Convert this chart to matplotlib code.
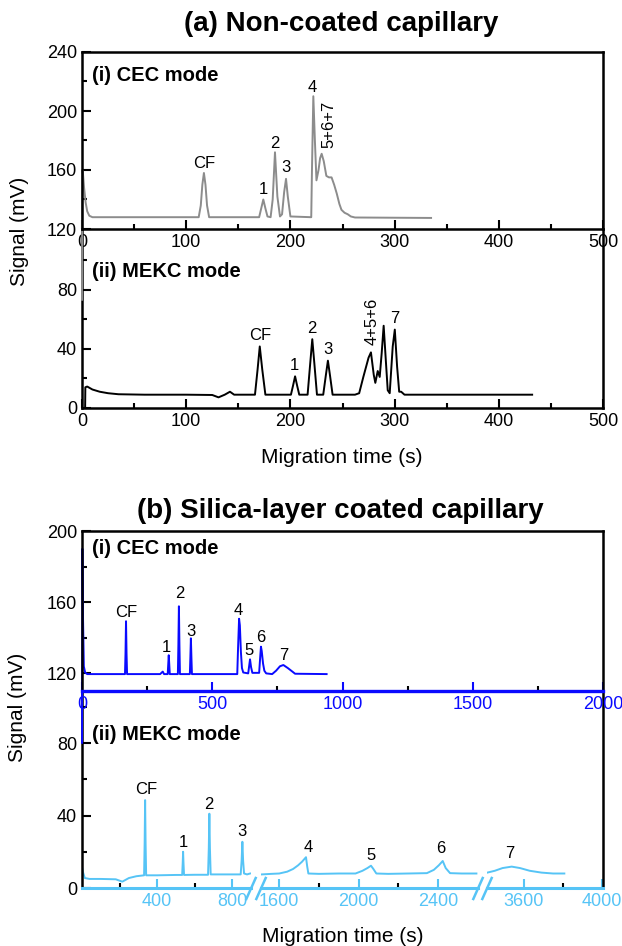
import matplotlib
matplotlib.use('Agg')
import matplotlib.pyplot as plt
from matplotlib.lines import Line2D

plt.rcParams['font.family'] = ['Liberation Sans', 'DejaVu Sans']

W, H = 622, 946
GRAY = '#8c8c8c'
BLUE = '#0a0aff'
SKY = '#56c4f6'

# ---- (a) non-coated capillary, CEC mode (gray) ----
a_cec_t = [0, 0.3, 1, 2, 3.5, 5, 7, 10, 112, 114, 115.5, 117, 118.5, 120, 122,
           170, 172, 174, 176, 178, 181, 183, 185.2, 187.5, 190, 192, 194, 195.8,
           197.5, 200, 220, 220.7, 222, 223.5, 225, 227, 228.5, 230, 232, 234.5,
           237, 239.5, 242, 244.5, 247, 249, 252, 255, 258, 262, 335]
a_cec_s = [72, 160, 157, 148, 138, 132, 129, 128, 128, 136, 150, 158, 150, 136, 128,
           128, 134, 140, 134, 128.5, 128, 140, 172, 142, 128.5, 130, 145, 154,
           142, 128.5, 128, 160, 210, 180, 153, 160, 168, 171, 166, 156,
           155, 155, 150, 144, 137, 133, 131, 130, 128.5, 127.8, 127.5]
a_cec_lab = ['CF', '1', '2', '3', '4']
a_cec_lab_t = [117.5, 173.6, 185, 195.6, 221.4]
a_cec_lab_s = [164.5, 146.8, 178.3, 161.7, 216]

# ---- (a) non-coated capillary, MEKC mode (black) ----
a_mekc_t = [3, 3.2, 5, 10, 17, 25, 35, 60, 100, 125, 131, 137, 142, 146, 150,
            166, 168.5, 170.6, 173, 176, 200.5, 202.5, 204.5, 206.5, 208.5,
            216.5, 219, 221, 223, 225.5, 231.5, 234, 236, 238, 240.5, 262, 266,
            270, 275, 277.3, 280, 281.5, 283.8, 285.7, 287.6, 289.5, 291.5, 293.4,
            295.3, 298.2, 300.2, 302.4, 304.4, 306.3, 309.5, 432]
a_mekc_s = [0, 14, 14.5, 12.5, 11, 10, 9.3, 9, 9, 8.8, 7.2, 9, 11, 9, 9,
            9, 26, 41.6, 26, 9, 9, 15, 21.4, 15, 9,
            9, 30, 46.5, 30, 9, 9, 22, 32, 22, 9, 9, 10,
            21, 34, 37.6, 22.4, 17, 25, 21, 37, 55.6, 33, 12,
            10, 41.6, 53, 28, 11, 11, 9, 9]
a_mekc_lab = ['CF', '1', '2', '3', '7']
a_mekc_lab_t = [170.8, 203.5, 220.4, 236.4, 300.4]
a_mekc_lab_s = [49.2, 28.8, 53.6, 39.3, 60.5]

# ---- (b) silica-layer coated, CEC mode (blue) ----
b_cec_t = [0, 1.5, 4, 7, 12, 20, 165, 167, 169, 171, 173, 300, 310, 315,
           329, 331, 333, 335, 337, 368, 370, 372, 374, 376, 414, 416, 418, 420, 422,
           596, 599, 603, 606, 610, 614, 619, 638, 642, 645, 649, 654,
           680, 684, 687, 690, 695, 700, 707, 730, 745, 760, 773, 790, 805, 818, 939]
b_cec_s = [81, 190, 150, 124, 120.5, 119.6, 119.6, 131, 149.3, 131, 119.6, 119.6, 121, 119.6,
           119.6, 125, 130.2, 125, 119.6, 119.6, 136, 157.7, 136, 119.6, 119.6, 129, 139.7, 129, 119.6,
           119.6, 134, 150.7, 147, 132, 123, 120.5, 120, 124.5, 127.9, 123.5, 120.3,
           120.3, 129, 135, 132.5, 125.5, 121.5, 120, 119.6, 121.5, 124, 124.7, 123, 121.3, 119.8, 119.6]
b_cec_lab = ['CF', '1', '2', '3', '4', '5', '6', '7']
b_cec_lab_t = [169, 325, 373.6, 417, 601.5, 642, 687, 773]
b_cec_lab_s = [154, 134.8, 164.8, 143.5, 155.6, 132.9, 140.2, 129.9]

# ---- (b) silica-layer coated, MEKC mode (light blue, broken time axis) ----
b_mekc1_t = [1, 3, 6, 15, 40, 100, 180, 215, 250, 290, 331, 334, 336.5, 339, 342,
             400, 500, 534, 537, 539, 541, 544, 600, 672, 676, 679, 682, 686, 750,
             846, 851, 855, 859, 864, 880, 896]
b_mekc1_s = [11, 10, 8.5, 5.5, 5, 5, 4.8, 3.5, 5.5, 6.5, 7, 25, 48.5, 25, 7,
             7, 7.2, 7.2, 14, 20, 14, 7.2, 7.3, 7.3, 22, 41, 22, 7.5, 7.5,
             7.5, 15, 25.5, 15, 8, 7.5, 8]
b_mekc2_t = [1512, 1560, 1600, 1640, 1670, 1695, 1715, 1735, 1741, 1747, 1800, 1900,
             1985, 2020, 2045, 2063, 2075, 2090, 2150, 2250, 2345, 2380, 2405, 2425,
             2440, 2462, 2520, 2595]
b_mekc2_s = [7.5, 7.8, 8, 9, 10.5, 12.5, 14.5, 17, 12, 8, 7.8, 8,
             8, 9.5, 11, 12.3, 10.5, 8, 7.8, 8, 8.2, 10, 12.5, 14.9,
             11, 8.2, 8, 8]
b_mekc3_t = [3412, 3450, 3490, 3537, 3580, 3630, 3690, 3750, 3808]
b_mekc3_s = [8.5, 9.5, 11, 11.8, 11, 9.5, 8.5, 8, 8]
b_mekc_lab = ['CF', '1', '2', '3', '4', '5', '6', '7']
b_mekc_lab_t = [339.7, 540, 677, 851.7, 1746.5, 2063, 2415, 3528]
b_mekc_lab_s = [54.6, 25.1, 45.8, 30.9, 22.6, 17.7, 21.8, 18.8]


def px_box(l, t, r, b):
    return [l / W, 1 - b / H, (r - l) / W, (b - t) / H]


def style(ax, xcolor='black', ycolor='black'):
    for s in ax.spines.values():
        s.set_linewidth(1.8)
    ax.tick_params(which='both', direction='in', labelsize=13, width=1.5, pad=3.5)
    ax.tick_params(which='major', length=6.5)
    ax.tick_params(which='minor', length=3.5)
    ax.tick_params(axis='x', colors=xcolor)
    ax.tick_params(axis='y', colors=ycolor)


def peak_labels(ax, labels, ts, ss, seg_lim=None):
    for lab, t, s in zip(labels, ts, ss):
        if seg_lim is not None and not (seg_lim[0] <= t <= seg_lim[1]):
            continue
        ax.text(t, s, lab, fontsize=12, ha='center', va='center')


fig = plt.figure(figsize=(W / 100, H / 100), dpi=100)

# ================= (a) =================
ax_a2 = fig.add_axes(px_box(82, 229, 603, 408))
ax_a2.plot(a_mekc_t, a_mekc_s, color='black', lw=1.4)
ax_a2.set_xlim(0, 500)
ax_a2.set_ylim(0, 121)
ax_a2.set_xticks(range(0, 501, 100))
ax_a2.set_xticks(range(50, 500, 100), minor=True)
ax_a2.set_yticks([0, 40, 80])
ax_a2.set_yticks([20, 60, 100], minor=True)
ax_a2.spines['top'].set_visible(False)
style(ax_a2)
peak_labels(ax_a2, a_mekc_lab, a_mekc_lab_t, a_mekc_lab_s)
ax_a2.text(278.3, 58.5, '4+5+6', fontsize=12, rotation=90, ha='center', va='center')
ax_a2.text(0.019, 0.76, '(ii) MEKC mode', transform=ax_a2.transAxes,
           fontsize=14.5, fontweight='bold', ha='left', va='center')

ax_a1 = fig.add_axes(px_box(82, 52, 603, 229))
ax_a1.plot(a_cec_t, a_cec_s, color=GRAY, lw=1.4, clip_on=False)
ax_a1.set_xlim(0, 500)
ax_a1.set_ylim(120, 240)
ax_a1.set_xticks(range(0, 501, 100))
ax_a1.set_xticks(range(50, 500, 100), minor=True)
ax_a1.set_yticks([120, 160, 200, 240])
ax_a1.set_yticks([140, 180, 220], minor=True)
style(ax_a1)
peak_labels(ax_a1, a_cec_lab, a_cec_lab_t, a_cec_lab_s)
ax_a1.text(237, 191.2, '5+6+7', fontsize=12, rotation=90, ha='center', va='center')
ax_a1.text(0.019, 0.87, '(i) CEC mode', transform=ax_a1.transAxes,
           fontsize=14.5, fontweight='bold', ha='left', va='center')

fig.text(341 / W, 1 - 24 / H, '(a) Non-coated capillary', fontsize=20,
         fontweight='bold', ha='center', va='center')
fig.text(20 / W, 1 - 231.7 / H, 'Signal (mV)', fontsize=15, rotation=90,
         ha='center', va='center')
fig.text(342 / W, 1 - 457 / H, 'Migration time (s)', fontsize=15,
         ha='center', va='center')

# ================= (b) =================
seg_boxes = [(82, 251), (261, 478), (487, 603)]
seg_lims = [(0, 901), (1508, 2603), (3410, 4007)]
seg_major = [[400, 800], [1600, 2000, 2400], [3600, 4000]]
seg_minor = [[200, 600], [1800, 2200], [3800]]
seg_data = [(b_mekc1_t, b_mekc1_s), (b_mekc2_t, b_mekc2_s), (b_mekc3_t, b_mekc3_s)]

seg_axes = []
for i, ((l, r), lim, maj, mnr, (tt, ss)) in enumerate(
        zip(seg_boxes, seg_lims, seg_major, seg_minor, seg_data)):
    ax = fig.add_axes(px_box(l, 691, r, 888))
    ax.plot(tt, ss, color=SKY, lw=1.4)
    ax.set_xlim(*lim)
    ax.set_ylim(0, 108.7)
    ax.set_xticks(maj)
    ax.set_xticks(mnr, minor=True)
    style(ax, xcolor=SKY)
    ax.spines['top'].set_visible(False)
    ax.spines['bottom'].set_color(SKY)
    ax.spines['bottom'].set_linewidth(2.2)
    if i == 0:
        ax.set_yticks([0, 40, 80])
        ax.set_yticks([20, 60, 100], minor=True)
    else:
        ax.spines['left'].set_visible(False)
        ax.set_yticks([])
    if i < 2:
        ax.spines['right'].set_visible(False)
    peak_labels(ax, b_mekc_lab, b_mekc_lab_t, b_mekc_lab_s, seg_lim=lim)
    seg_axes.append(ax)

seg_axes[0].text(0.059, 0.78, '(ii) MEKC mode', transform=seg_axes[0].transAxes,
                 fontsize=14.5, fontweight='bold', ha='left', va='center')

# axis break marks at the segment edges
for a, b in zip(seg_axes[:-1], seg_axes[1:]):
    for xe in (a.get_position().x1, b.get_position().x0):
        fig.add_artist(Line2D([xe - 4.7 / W, xe + 4.7 / W],
                              [1 - 899 / H, 1 - 878 / H],
                              color=SKY, lw=1.8, transform=fig.transFigure))

ax_b1 = fig.add_axes(px_box(82, 531, 603, 691))
ax_b1.plot(b_cec_t, b_cec_s, color=BLUE, lw=1.4, clip_on=False)
ax_b1.set_xlim(0, 2000)
ax_b1.set_ylim(110.1, 200)
ax_b1.set_xticks(range(0, 2001, 500))
ax_b1.set_xticks(range(250, 2000, 500), minor=True)
ax_b1.set_yticks([120, 160, 200])
ax_b1.set_yticks([140, 180], minor=True)
style(ax_b1, xcolor=BLUE)
ax_b1.spines['bottom'].set_color(BLUE)
ax_b1.spines['bottom'].set_linewidth(2.4)
peak_labels(ax_b1, b_cec_lab, b_cec_lab_t, b_cec_lab_s)
ax_b1.text(0.019, 0.8875, '(i) CEC mode', transform=ax_b1.transAxes,
           fontsize=14.5, fontweight='bold', ha='left', va='center')

fig.text(340 / W, 1 - 511 / H, '(b) Silica-layer coated capillary', fontsize=20,
         fontweight='bold', ha='center', va='center')
fig.text(18 / W, 1 - 707.5 / H, 'Signal (mV)', fontsize=15, rotation=90,
         ha='center', va='center')
fig.text(343 / W, 1 - 936 / H, 'Migration time (s)', fontsize=15,
         ha='center', va='center')

fig.savefig('out.png', dpi=100)
